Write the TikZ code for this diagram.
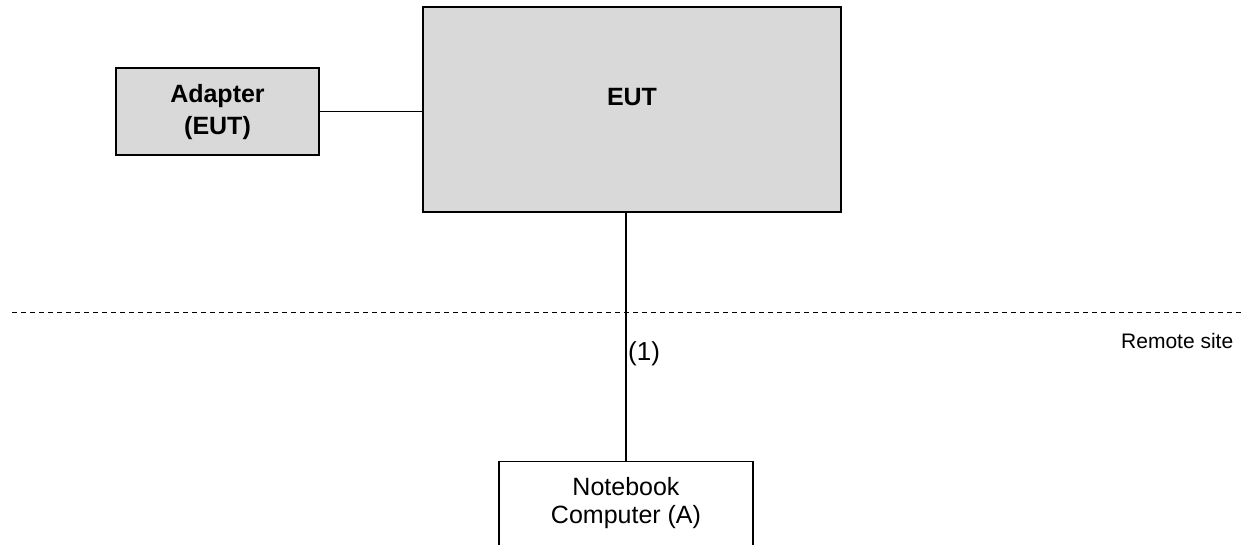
\documentclass[tikz,border=0pt]{standalone}
\usepackage{fontspec}
\setmainfont{Liberation Sans}
\usepackage{xcolor}
\usetikzlibrary{positioning,calc}
\definecolor{BoxGrey}{RGB}{217,217,217}

\begin{document}
\begin{tikzpicture}[
        x=1pt, y=-1pt,
        % --- STYLE CHUNG ---
        common/.style={
            rectangle,
            draw=black,
            line width=1.2pt,
            inner sep=0pt
        },
        % Hop xam
        greybox/.style={
            common,
            fill=BoxGrey
        },
        % Hop trang
        whitebox/.style={
            common,
            fill=white
        },
        % Chu
        boxtext/.style={
            align=center,
            inner sep=0pt,
            font=\fontsize{25}{28}\selectfont
        },
        boldtext/.style={
            align=center,
            inner sep=0pt,
            font=\fontsize{25}{32}\selectfont\bfseries
        },
        link/.style={draw=black, line width=1pt},
        mainlink/.style={draw=black, line width=2pt},
        siteline/.style={draw=black, line width=1pt, dash pattern=on 5pt off 4pt}
    ]

        % --- KHUNG ---
        \useasboundingbox (0,0) rectangle (1243,545);
        \clip (0,0) rectangle (1243,545);

        % --- CAC HOP ---
        \node[greybox, minimum width=418pt, minimum height=205pt] (eut) at (632,109.5) {};
        \node[boldtext] (euttext) at ([yshift=-90.5pt]eut.north) {EUT};

        \node[greybox, minimum width=203pt, minimum height=87pt] (adapter) at (217.5,111.5) {};
        \node[boldtext] (adaptertext) at ([yshift=-1pt]adapter.center) {Adapter\\(EUT)};

        \node[whitebox, minimum width=254pt, minimum height=120pt, anchor=north] (notebook) at (626,461) {};
        \node[boxtext] (notebooktext) at ([yshift=-42pt]notebook.north) {Notebook\\Computer (A)};

        % --- DUONG NOI ---
        \draw[link] (adapter.east) -- (adapter.east -| eut.west);
        \draw[mainlink] (notebook.north |- eut.south) -- (notebook.north);

        % --- RANH GIOI ---
        \coordinate (dashL) at (12,313);
        \coordinate (dashR) at (1243,313);
        \draw[siteline] (dashL) -- (dashR);

        \node[boxtext, anchor=west, font=\fontsize{26}{30}\selectfont] (cablelabel) at (628,354) {(1)};
        \node[boxtext, anchor=west, font=\fontsize{21}{25}\selectfont] (sitelabel) at (1121,341) {Remote site};

    \end{tikzpicture}
\end{document}
